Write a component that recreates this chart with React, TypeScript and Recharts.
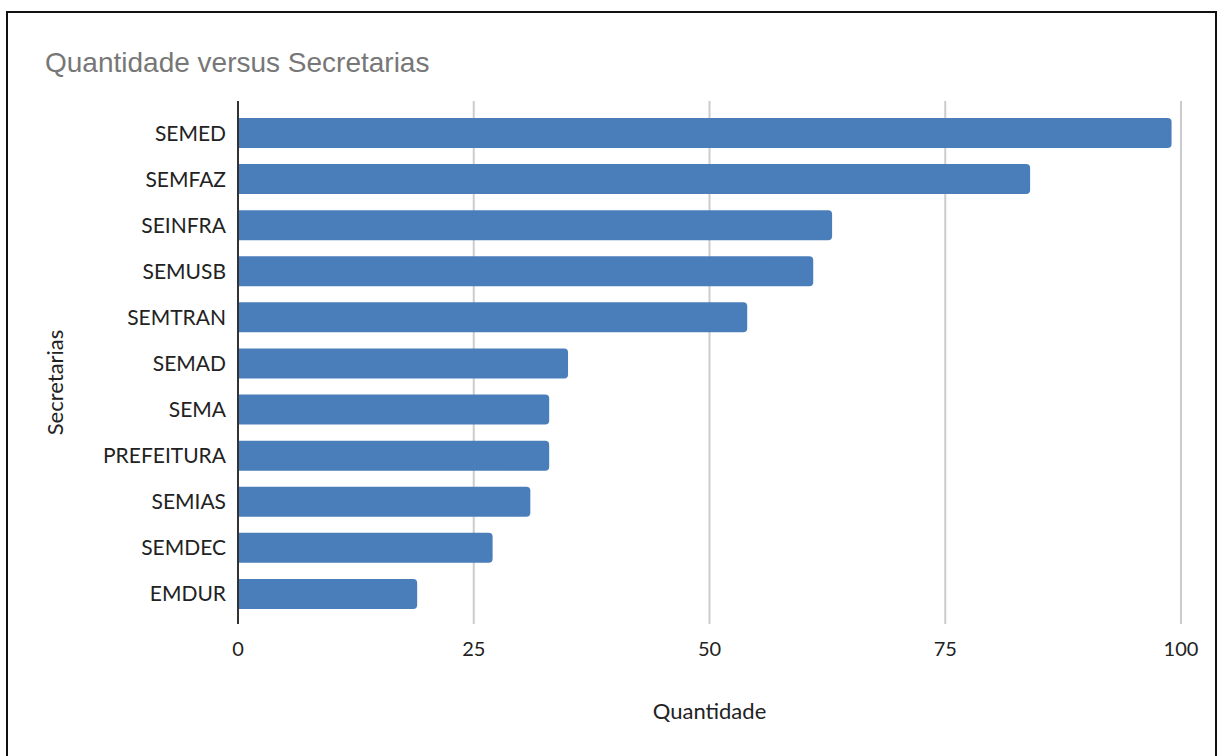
import { BarChart, Bar, XAxis, YAxis, CartesianGrid, Label } from 'recharts';

const secretarias = [
    'SEMED',
    'SEMFAZ',
    'SEINFRA',
    'SEMUSB',
    'SEMTRAN',
    'SEMAD',
    'SEMA',
    'PREFEITURA',
    'SEMIAS',
    'SEMDEC',
    'EMDUR',
];
const quantidades = [99, 84, 63, 61, 54, 35, 33, 33, 31, 27, 19];
const xTicks = [0, 25, 50, 75, 100];

const data = secretarias.map((name, i) => ({ name, quantidade: quantidades[i] }));

const font = 'Lato, "Open Sans", sans-serif';

export default function App() {
    return (
        <div
            style={{
                position: 'absolute',
                left: 0,
                top: 0,
                width: 1220,
                height: 756,
                background: '#fff',
                overflow: 'hidden',
            }}
        >
            <div
                style={{
                    position: 'absolute',
                    left: 6,
                    top: 11,
                    width: 1211,
                    height: 760,
                    border: '2px solid #111',
                    boxSizing: 'border-box',
                }}
            />
            <div
                style={{
                    position: 'absolute',
                    left: 45,
                    top: 45,
                    fontFamily: '"Liberation Sans", Arial, sans-serif',
                    fontSize: 28,
                    color: '#777',
                    lineHeight: '36px',
                    whiteSpace: 'nowrap',
                }}
            >
                Quantidade versus Secretarias
            </div>
            <div style={{ position: 'absolute', left: 0, top: 0 }}>
                <BarChart
                    width={1220}
                    height={756}
                    data={data}
                    layout="vertical"
                    margin={{ top: 101, right: 39, bottom: 32, left: 0 }}
                >
                    <CartesianGrid horizontal={false} stroke="#cccccc" strokeWidth={2} />
                    <XAxis
                        type="number"
                        domain={[0, 100]}
                        ticks={xTicks}
                        axisLine={false}
                        tickLine={false}
                        tickMargin={12}
                        height={100}
                        tick={{ fontSize: 20, fill: '#222', fontFamily: font }}
                    >
                        <Label
                            value="Quantidade"
                            position="insideBottom"
                            offset={5}
                            style={{ fontSize: 22, fill: '#222', fontFamily: font }}
                        />
                    </XAxis>
                    <YAxis
                        type="category"
                        dataKey="name"
                        width={238}
                        padding={{ top: 9, bottom: 7 }}
                        axisLine={{ stroke: '#333', strokeWidth: 2 }}
                        tickLine={false}
                        tickMargin={6}
                        interval={0}
                        tick={{ fontSize: 21, fill: '#222', fontFamily: font }}
                    >
                        <Label
                            value="Secretarias"
                            angle={-90}
                            position="insideLeft"
                            offset={55}
                            dy={20}
                            style={{ fontSize: 22, fill: '#222', fontFamily: font, textAnchor: 'middle' }}
                        />
                    </YAxis>
                    <Bar
                        dataKey="quantidade"
                        fill="#4a7ebb"
                        barSize={30}
                        radius={[0, 4, 4, 0]}
                        isAnimationActive={false}
                    />
                </BarChart>
            </div>
        </div>
    );
}
